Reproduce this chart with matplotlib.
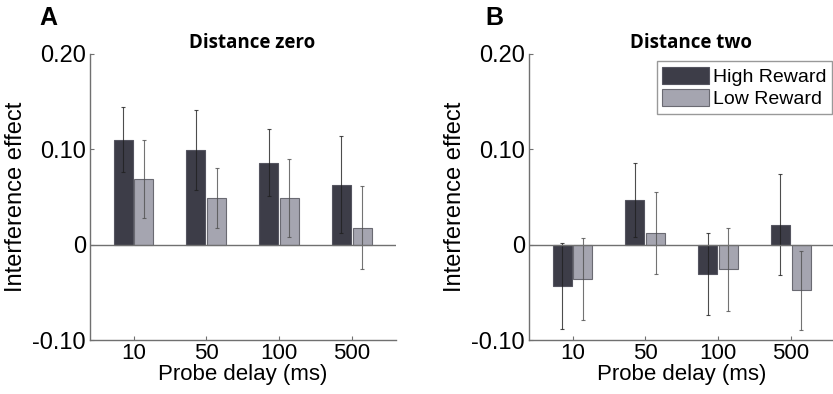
import numpy as np
import matplotlib.pyplot as plt

plt.rcParams['font.family'] = ['Liberation Sans', 'DejaVu Sans']

# data
delays = ['10', '50', '100', '500']

zero_high = [0.110, 0.099, 0.086, 0.063]
zero_high_err = [0.034, 0.042, 0.035, 0.051]
zero_low = [0.069, 0.049, 0.049, 0.018]
zero_low_err = [0.041, 0.031, 0.041, 0.044]

two_high = [-0.043, 0.047, -0.031, 0.021]
two_high_err = [0.045, 0.039, 0.043, 0.053]
two_low = [-0.036, 0.012, -0.026, -0.048]
two_low_err = [0.043, 0.043, 0.044, 0.041]

dark = '#3d3d48'
light = '#a5a5b0'
axis_gray = '#707070'

fig = plt.figure(figsize=(8.33, 3.94), dpi=100)
ax_a = fig.add_axes([0.108, 0.137, 0.367, 0.726])
ax_b = fig.add_axes([0.635, 0.137, 0.367, 0.726])


def draw_panel(ax, high, high_err, low, low_err, title):
    x = np.arange(1, len(delays) + 1)
    w = 0.26
    ax.bar(x - 0.145, high, w, color=dark, edgecolor='#555560', linewidth=0.8,
           label='High Reward')
    ax.bar(x + 0.14, low, w, color=light, edgecolor='#6a6a72', linewidth=0.8,
           label='Low Reward')
    ax.errorbar(x - 0.145, high, yerr=high_err, fmt='none', ecolor='#202020',
                elinewidth=0.8, capsize=1.5, capthick=0.8, alpha=0.8)
    ax.errorbar(x + 0.14, low, yerr=low_err, fmt='none', ecolor='#505050',
                elinewidth=0.8, capsize=1.5, capthick=0.8, alpha=0.8)
    ax.axhline(0, color=axis_gray, linewidth=1.0)
    ax.set_xlim(0.4, 4.6)
    ax.set_ylim(-0.1, 0.2)
    ax.set_xticks(x)
    ax.set_xticklabels(delays)
    ax.set_yticks([-0.1, 0, 0.1, 0.2])
    ax.set_yticklabels(['-0.10', '0', '0.10', '0.20'])
    ax.tick_params(direction='in', length=3, width=0.8, color=axis_gray,
                   labelsize=17, pad=3)
    ax.tick_params(axis='x', pad=2, labelsize=16)
    for s in ['top', 'right']:
        ax.spines[s].set_visible(False)
    for s in ['left', 'bottom']:
        ax.spines[s].set_color(axis_gray)
        ax.spines[s].set_linewidth(1.0)
    ax.set_xlabel('Probe delay (ms)', fontsize=16, labelpad=0.5)
    ax.set_ylabel('Interference effect', fontsize=17, labelpad=4)
    ax.set_title(title, fontsize=13.5, fontweight='bold', family=['Open Sans', 'DejaVu Sans'],
                 pad=4, x=0.53)


draw_panel(ax_a, zero_high, zero_high_err, zero_low, zero_low_err, 'Distance zero')
draw_panel(ax_b, two_high, two_high_err, two_low, two_low_err, 'Distance two')

leg = ax_b.legend(loc='upper right', bbox_to_anchor=(1.005, 0.99), fontsize=14,
                  frameon=True, fancybox=False, edgecolor='#808080',
                  handlelength=2.4, handleheight=1.0, handletextpad=0.2,
                  borderpad=0.3, labelspacing=0.15, borderaxespad=0.2)
leg.get_frame().set_linewidth(1.0)

fig.text(0.058, 0.955, 'A', fontsize=18, fontweight='bold', ha='center', va='center')
fig.text(0.594, 0.955, 'B', fontsize=18, fontweight='bold', ha='center', va='center')

fig.savefig('out.png', dpi=100)
